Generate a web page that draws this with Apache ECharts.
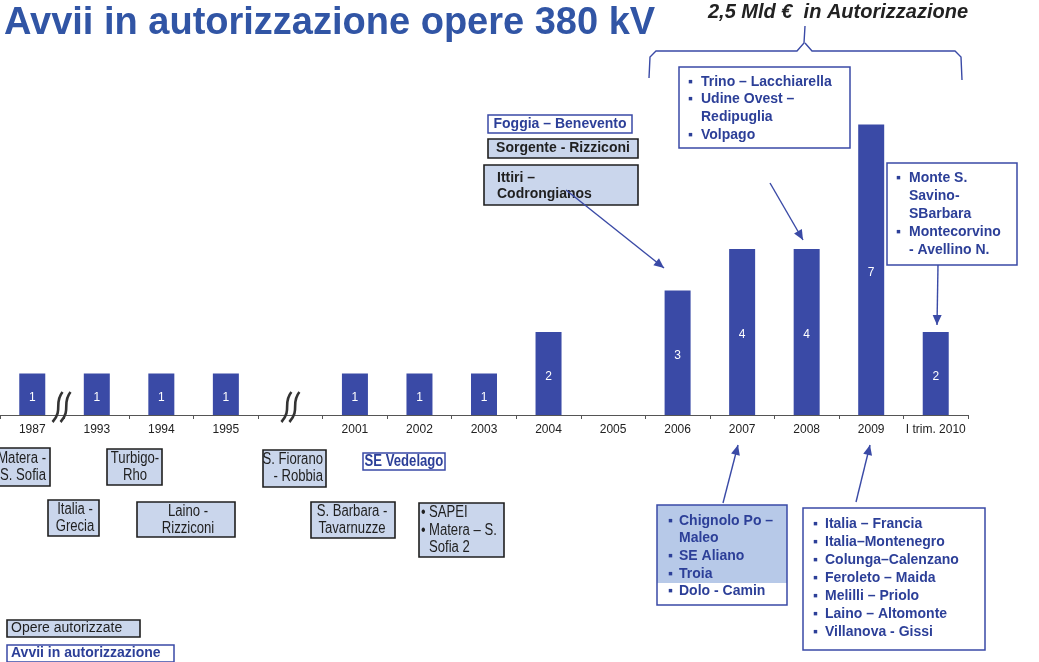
<!DOCTYPE html>
<html><head><meta charset="utf-8">
<script src="https://cdn.jsdelivr.net/npm/echarts@6/dist/echarts.min.js"></script>
<style>html,body{margin:0;padding:0;background:#fff}#c{width:1039px;height:662px}</style>
</head><body><div id="c"></div>
<script>
// ---- data ----
const categories = ['1987','1993','1994','1995','','2001','2002','2003','2004','2005','2006','2007','2008','2009','I trim. 2010'];
const avviiValues = [1,1,1,1,null,1,1,1,2,null,3,4,4,7,2];
const titleText = 'Avvii in autorizzazione opere 380 kV';
const bracketText = '2,5 Mld €  in Autorizzazione';
const legendLabels = ['Opere autorizzate','Avvii in autorizzazione'];

const BLUE = '#3a4aa6', TXTBLUE = '#2c3f98', LIGHT = '#cad6ec', DARK = '#1f1f1f';
const SANS = "'Liberation Sans', Arial, sans-serif";

const chart = echarts.init(document.getElementById('c'), null, {renderer:'canvas'});
chart.setOption({
  animation:false,
  backgroundColor:'#fff',
  grid:{left:-7, right:71, top:83, bottom:247},
  xAxis:{type:'category', data:categories, boundaryGap:true,
    axisLine:{lineStyle:{color:'#555', width:1.2}},
    axisTick:{show:true, length:4, lineStyle:{color:'#555'}},
    axisLabel:{interval:0, color:'#222', fontSize:12, fontFamily:SANS, margin:9}},
  yAxis:{type:'value', min:0, max:8, show:false, splitLine:{show:false}},
  series:[{type:'bar', data:avviiValues, barWidth:26, itemStyle:{color:BLUE},
    label:{show:true, position:'inside', offset:[0,3], color:'#fff', fontSize:12, fontFamily:SANS}}]
});

const g = [];
function rect(x,y,w,h,fill,stroke,lw){ g.push({type:'rect', z:10, shape:{x,y,width:w,height:h}, style:{fill, stroke, lineWidth:lw||1.5}}); }
function text(x,y,str,font,fill,align,lh,sx){ g.push({type:'text', z:11, x, y, scaleX:sx||1, style:{text:str, font, fill, align:align||'left', verticalAlign:'middle', lineHeight:lh||16}}); }
function lines(x,y0,lh,arr,font,fill,align,sx){ arr.forEach((s,i)=>text(x,y0+i*lh,s,font,fill,align,lh,sx)); }
function bullets(xb,xt,y0,lh,items,font,fill,bch,sx){ items.forEach((it,i)=>{ if(it[0]) text(xb,y0+i*lh,bch||'▪',font,fill,'left',lh,sx); text(xt,y0+i*lh,it[1],font,fill,'left',lh,sx); }); }
function arrow(x1,y1,x2,y2){
  g.push({type:'line', z:12, shape:{x1,y1,x2,y2}, style:{stroke:BLUE, lineWidth:1.4}});
  const a=Math.atan2(y2-y1,x2-x1), L=10, W=4.5;
  const bx=x2-L*Math.cos(a), by=y2-L*Math.sin(a);
  g.push({type:'polygon', z:12, shape:{points:[[x2,y2],[bx+W*Math.sin(a),by-W*Math.cos(a)],[bx-W*Math.sin(a),by+W*Math.cos(a)]]}, style:{fill:BLUE}});
}
function squiggle(cx,cy){
  [-4,4].forEach(d=>{
    g.push({type:'bezierCurve', z:12, shape:{x1:cx+d+5,y1:cy-15,cpx1:cx+d-4,cpy1:cy-4,cpx2:cx+d+6,cpy2:cy+3,x2:cx+d-5,y2:cy+15}, style:{stroke:'#333', lineWidth:2.6, fill:null}});
  });
}

// title
text(4,24,titleText,'bold 38px '+SANS,'#3155a5');
text(838,12,bracketText,'italic bold 20px '+SANS,'#222','center');
// bracket
g.push({type:'polyline', z:10, shape:{points:[[649,78],[650,57],[656,51],[797,51],[804,43],[805,26]]}, style:{stroke:BLUE, lineWidth:1.4, fill:null}});
g.push({type:'polyline', z:10, shape:{points:[[805,43],[812,51],[955,51],[961,57],[962,80]]}, style:{stroke:BLUE, lineWidth:1.4, fill:null}});

const BF = 'bold 14px '+SANS;
// upper boxes
rect(488,115,144,18,'#fff',BLUE,1.5); text(560,124,'Foggia – Benevento',BF,TXTBLUE,'center');
rect(488,139,150,19,LIGHT,DARK,1.6); text(563,148.5,'Sorgente - Rizziconi',BF,DARK,'center');
rect(484,165,154,40,LIGHT,DARK,1.6); lines(497,178,16,['Ittiri –','Codrongianos'],BF,DARK);
rect(679,67,171,81,'#fff',BLUE,1.5);
bullets(688,701,82,17.6,[[1,'Trino – Lacchiarella'],[1,'Udine Ovest –'],[0,'Redipuglia'],[1,'Volpago']],BF,TXTBLUE);
rect(887,163,130,102,'#fff',BLUE,1.5);
bullets(896,909,178,18,[[1,'Monte S.'],[0,'Savino-'],[0,'SBarbara'],[1,'Montecorvino'],[0,'- Avellino N.']],BF,TXTBLUE);

// arrows
arrow(566,190,664,268);
arrow(770,183,803,240);
arrow(938,265,937,325);
arrow(723,503,738,445);
arrow(856,502,870,445);

// lower boxes (opere autorizzate) - narrow text
const NF = '16px '+SANS, NS = 0.82;
rect(-12,448,62,38,LIGHT,DARK,1.6); lines(46,459,17,['Matera -','S. Sofia'],NF,DARK,'right',NS);
rect(107,449,55,36,LIGHT,DARK,1.6); lines(135,459,17,['Turbigo-','Rho'],NF,DARK,'center',NS);
rect(48,500,51,36,LIGHT,DARK,1.6); lines(75,510,17,['Italia -','Grecia'],NF,DARK,'center',NS);
rect(137,502,98,35,LIGHT,DARK,1.6); lines(188,512,17,['Laino -','Rizziconi'],NF,DARK,'center',NS);
rect(263,450,63,37,LIGHT,DARK,1.6); lines(323,460,17,['S. Fiorano','- Robbia'],NF,DARK,'right',NS);
rect(363,453,82,17,'#fff',BLUE,1.5); text(404,461.5,'SE Vedelago','bold 16px '+SANS,TXTBLUE,'center',16,NS);
rect(311,502,84,36,LIGHT,DARK,1.6); lines(352,512,17,['S. Barbara -','Tavarnuzze'],NF,DARK,'center',NS);
rect(419,503,85,54,LIGHT,DARK,1.6);
bullets(421,429,513,17.5,[[1,'SAPEI'],[1,'Matera – S.'],[0,'Sofia 2']],NF,DARK,'•',NS);

// 2007 box
rect(657,505,130,78,'#b7c9e8',null,0);
rect(657,505,130,100,null,BLUE,1.5);
bullets(668,679,521,17.6,[[1,'Chignolo Po –'],[0,'Maleo'],[1,'SE Aliano'],[1,'Troia'],[1,'Dolo - Camin']],BF,TXTBLUE);
// 2009 box
rect(803,508,182,142,'#fff',BLUE,1.5);
bullets(813,825,524,18,[[1,'Italia – Francia'],[1,'Italia–Montenegro'],[1,'Colunga–Calenzano'],[1,'Feroleto – Maida'],[1,'Melilli – Priolo'],[1,'Laino – Altomonte'],[1,'Villanova - Gissi']],BF,TXTBLUE);

// legend
rect(7,620,133,17,LIGHT,DARK,1.6); text(11,628.5,legendLabels[0],'14px '+SANS,DARK);
rect(7,645,167,17,'#fff',BLUE,1.5); text(11,653.5,legendLabels[1],'bold 14px '+SANS,TXTBLUE);

// axis breaks
const p0 = chart.convertToPixel({seriesIndex:0},[0,0]);
const p1 = chart.convertToPixel({seriesIndex:0},[1,0]);
const p4 = chart.convertToPixel({seriesIndex:0},[4,0]);
squiggle((p0[0]+p1[0])/2-3, p0[1]-8);
squiggle(p4[0], p4[1]-8);

chart.setOption({graphic:{elements:g}});
</script></body></html>
